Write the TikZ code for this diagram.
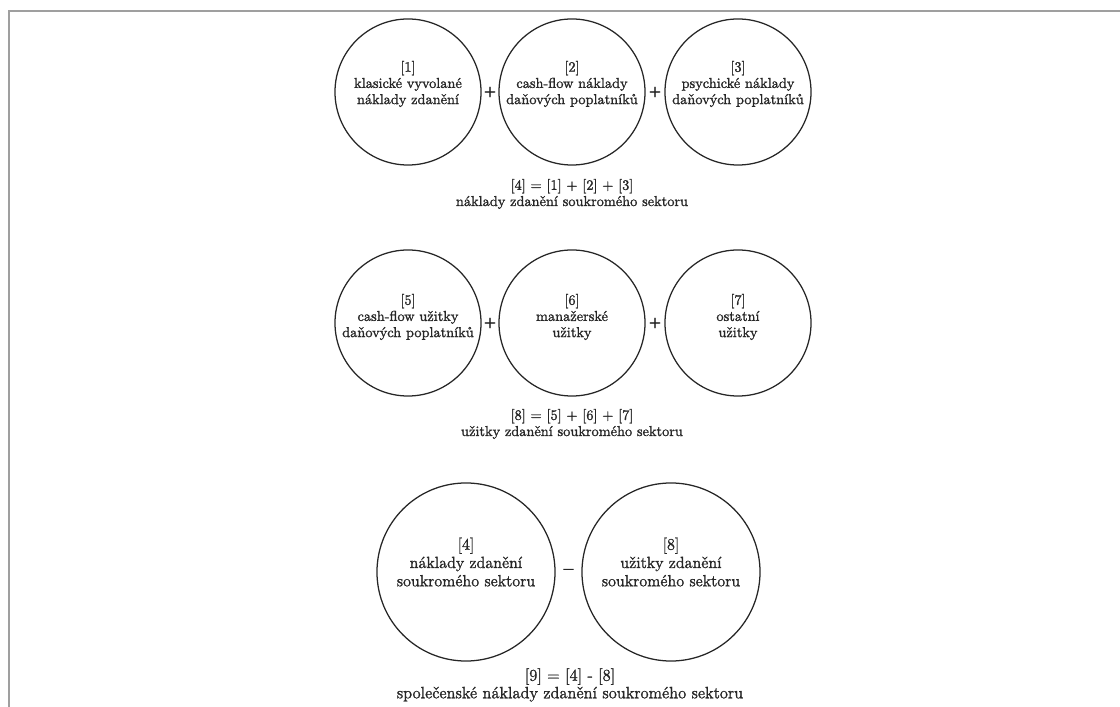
\documentclass[tikz,border=0pt]{standalone}
\usepackage{fontspec}
\usetikzlibrary{calc}
\newfontfamily\popisfont{Latin Modern Roman}[Ligatures=TeX,FakeBold=1.4]
\newfontfamily\znakfont{Latin Modern Roman}[Ligatures=TeX,FakeBold=3]
\begin{document}
\begin{tikzpicture}[x=0.025cm,y=-0.025cm]
        \useasboundingbox (0,0) rectangle (1120,707);
        \draw[gray!75,line width=1.4pt] (9,707) -- (9,11) -- (1120,11);
        % kruhy
        \begin{scope}[every node/.style={circle,draw=black!85,line width=0.9pt,minimum size=3.65cm,inner sep=0pt}]
          \node[] (K1) at (408,92) {};
          \node[] (K2) at (572,92) {};
          \node[] (K3) at (738,92) {};
          \node[] (K5) at (408,323) {};
          \node[] (K6) at (572,323) {};
          \node[] (K7) at (738,323) {};
          \node[minimum size=4.45cm] (K4) at (466,572) {};
          \node[minimum size=4.45cm] (K8) at (671,572) {};
        \end{scope}
        % texty v kruzich
        \begin{scope}[every node/.style={align=center,text=black!85,font=\popisfont\fontsize{10.2}{11.5}\selectfont}]
          \node[] (T1) at ([yshift=0.2cm]K1) {[1]\\klasické vyvolané\\náklady zdanění};
          \node[] (T2) at ([yshift=0.2cm]K2) {[2]\\cash-flow náklady\\daňových poplatníků};
          \node[] (T3) at ([yshift=0.2cm]K3) {[3]\\psychické náklady\\daňových poplatníků};
          \node[] (T5) at ([yshift=0.15cm]K5) {[5]\\cash-flow užitky\\daňových poplatníků};
          \node[] (T6) at ([yshift=0.15cm]K6) {[6]\\manažerské\\užitky};
          \node[] (T7) at ([yshift=0.15cm]K7) {[7]\\ostatní\\užitky};
          \node[font=\popisfont\fontsize{11.5}{13}\selectfont] (T4) at ([yshift=0.25cm]K4) {[4]\\náklady zdanění\\soukromého sektoru};
          \node[font=\popisfont\fontsize{11.5}{13}\selectfont] (T8) at ([yshift=0.25cm]K8) {[8]\\užitky zdanění\\soukromého sektoru};
          \node[] (S1) at (572,194) {[4] = [1] + [2] + [3]\\náklady zdanění soukromého sektoru};
          \node[] (S2) at (572,424) {[8] = [5] + [6] + [7]\\užitky zdanění soukromého sektoru};
          \node[font=\popisfont\fontsize{11.7}{12.5}\selectfont] (S3) at (570,685) {[9] = [4] - [8]\\společenské náklady zdanění soukromého sektoru};
        \end{scope}
        % znamenka
        \begin{scope}[every node/.style={text=black!85,font=\znakfont\fontsize{11}{12}\selectfont,inner sep=0pt}]
          \node[] (P1) at ($(K1.east)!0.5!(K2.west)$) {+};
          \node[] (P2) at ($(K2.east)!0.5!(K3.west)$) {+};
          \node[] (P3) at ($(K5.east)!0.5!(K6.west)$) {+};
          \node[] (P4) at ($(K6.east)!0.5!(K7.west)$) {+};
          \node[font=\znakfont\fontsize{14}{15}\selectfont] (M1) at ($(K4.east)!0.5!(K8.west)$) {--};
        \end{scope}
      \end{tikzpicture}
\end{document}
